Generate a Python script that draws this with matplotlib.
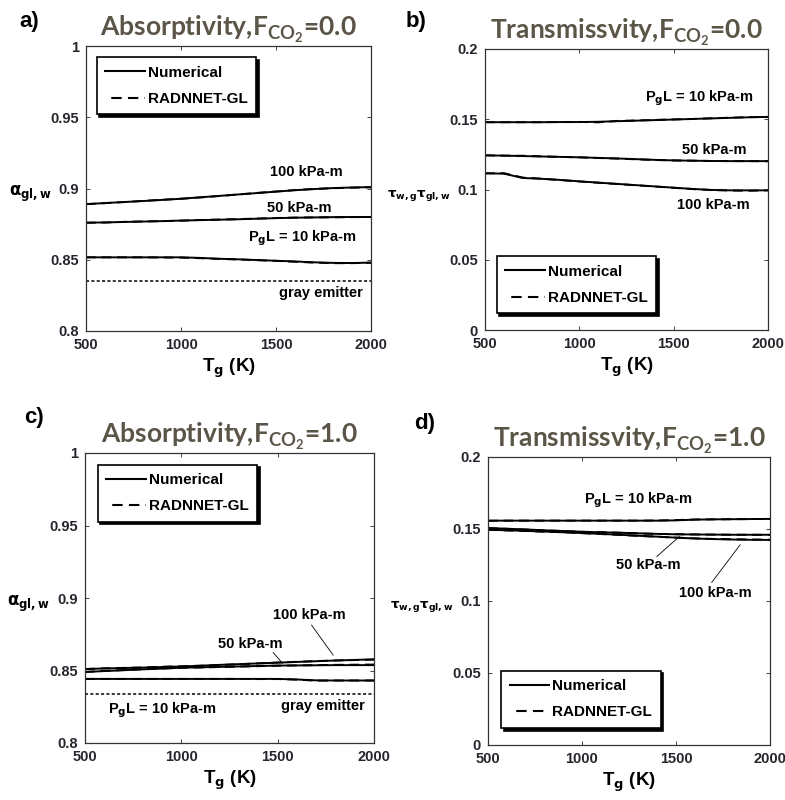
import matplotlib
matplotlib.use("Agg")
import matplotlib.pyplot as plt
import numpy as np

plt.rcParams['font.family'] = ['Liberation Sans', 'DejaVu Sans']
plt.rcParams['font.weight'] = 'bold'
plt.rcParams['mathtext.fontset'] = 'custom'
plt.rcParams['mathtext.rm'] = 'Lato:bold'
plt.rcParams['mathtext.bf'] = 'Lato:bold'
plt.rcParams['mathtext.it'] = 'Lato:bold'

# ---------------- data ----------------
T = [500, 600, 700, 800, 900, 1000, 1100, 1200, 1300, 1400, 1500, 1600, 1700, 1800, 1900, 2000]

# a) absorptivity, F_CO2 = 0.0
a_num_100 = [0.889, 0.8898, 0.8905, 0.8912, 0.892, 0.8928, 0.8938, 0.8948, 0.8958, 0.8968, 0.8978, 0.8988, 0.8996, 0.9003, 0.9007, 0.901]
a_net_100 = [0.889, 0.8897, 0.8905, 0.8913, 0.8921, 0.8928, 0.8937, 0.8947, 0.8958, 0.8969, 0.8979, 0.8989, 0.8997, 0.9002, 0.9006, 0.9008]
a_num_50 = [0.876, 0.8762, 0.8765, 0.8768, 0.8771, 0.8775, 0.8778, 0.8781, 0.8784, 0.8788, 0.8792, 0.8795, 0.8797, 0.8799, 0.88, 0.88]
a_net_50 = [0.876, 0.8761, 0.8766, 0.8769, 0.8771, 0.8774, 0.8779, 0.8782, 0.8785, 0.8789, 0.8793, 0.8796, 0.8797, 0.8798, 0.8799, 0.88]
a_num_10 = [0.8517, 0.8517, 0.8517, 0.8517, 0.8517, 0.8517, 0.8513, 0.8507, 0.8503, 0.8498, 0.8493, 0.8488, 0.8482, 0.8478, 0.8477, 0.848]
a_net_10 = [0.8517, 0.8517, 0.8517, 0.8517, 0.8516, 0.8515, 0.8511, 0.8506, 0.8502, 0.8497, 0.8492, 0.8486, 0.848, 0.8476, 0.8476, 0.8479]
gray_a = 0.835

# b) transmissivity, F_CO2 = 0.0
b_num_10 = [0.1479, 0.1479, 0.1479, 0.1479, 0.148, 0.148, 0.1482, 0.1486, 0.149, 0.1494, 0.1498, 0.1502, 0.1506, 0.151, 0.1514, 0.1517]
b_net_10 = [0.1479, 0.1479, 0.1479, 0.1479, 0.148, 0.1481, 0.1478, 0.1488, 0.1491, 0.1495, 0.1499, 0.1502, 0.1507, 0.1511, 0.1515, 0.1516]
b_num_50 = [0.1243, 0.1241, 0.1238, 0.1235, 0.1232, 0.1229, 0.1225, 0.1221, 0.1216, 0.1211, 0.1207, 0.1205, 0.1203, 0.1202, 0.1202, 0.1202]
b_net_50 = [0.1243, 0.1241, 0.124, 0.1236, 0.1232, 0.1229, 0.1224, 0.122, 0.1215, 0.121, 0.1207, 0.1205, 0.1203, 0.1202, 0.1202, 0.1201]
b_num_100 = [0.1115, 0.1113, 0.1082, 0.1076, 0.1068, 0.1058, 0.1049, 0.104, 0.1031, 0.1022, 0.1013, 0.1004, 0.0997, 0.0994, 0.0994, 0.0994]
b_net_100 = [0.1115, 0.1116, 0.1085, 0.1077, 0.1067, 0.1057, 0.1048, 0.1039, 0.103, 0.1021, 0.1012, 0.1003, 0.0996, 0.0993, 0.0991, 0.0994]

# c) absorptivity, F_CO2 = 1.0
c_num_100 = [0.851, 0.8514, 0.8517, 0.852, 0.8524, 0.8528, 0.8533, 0.8539, 0.8544, 0.8549, 0.8554, 0.8559, 0.8564, 0.8569, 0.8573, 0.8577]
c_net_100 = [0.851, 0.8515, 0.8518, 0.8521, 0.8526, 0.8529, 0.8533, 0.8538, 0.8543, 0.8549, 0.8555, 0.856, 0.8565, 0.8569, 0.8572, 0.8575]
c_num_50 = [0.849, 0.8496, 0.8502, 0.8508, 0.8513, 0.8519, 0.8522, 0.8525, 0.8528, 0.8531, 0.8534, 0.8535, 0.8536, 0.8537, 0.8537, 0.8537]
c_net_50 = [0.849, 0.8497, 0.8503, 0.8509, 0.8514, 0.8519, 0.8521, 0.8524, 0.8527, 0.853, 0.8533, 0.8535, 0.8537, 0.8539, 0.854, 0.8541]
c_num_10 = [0.8442, 0.8442, 0.8442, 0.8442, 0.8442, 0.8442, 0.8442, 0.8442, 0.8442, 0.8442, 0.8442, 0.8438, 0.8432, 0.8431, 0.8431, 0.8431]
c_net_10 = [0.8442, 0.8442, 0.8442, 0.8442, 0.8442, 0.8442, 0.8442, 0.8442, 0.8442, 0.8441, 0.8441, 0.8437, 0.843, 0.8431, 0.8431, 0.8431]
gray_c = 0.834

# d) transmissivity, F_CO2 = 1.0
d_num_10 = [0.1558, 0.1558, 0.1558, 0.1558, 0.1558, 0.1558, 0.1558, 0.1558, 0.1558, 0.1558, 0.156, 0.1565, 0.1567, 0.1568, 0.1569, 0.157]
d_net_10 = [0.1557, 0.1558, 0.1558, 0.1558, 0.1558, 0.1558, 0.1558, 0.1558, 0.1558, 0.1559, 0.1562, 0.1566, 0.1567, 0.1568, 0.1569, 0.157]
d_num_50 = [0.1507, 0.1502, 0.1497, 0.1491, 0.1486, 0.1481, 0.1477, 0.1474, 0.147, 0.1466, 0.1463, 0.1462, 0.1461, 0.146, 0.146, 0.146]
d_net_50 = [0.1505, 0.1501, 0.1496, 0.149, 0.1486, 0.148, 0.1478, 0.1474, 0.1469, 0.1466, 0.1464, 0.1462, 0.1461, 0.146, 0.146, 0.1459]
d_num_100 = [0.1495, 0.1491, 0.1487, 0.1482, 0.1477, 0.1472, 0.1466, 0.146, 0.1453, 0.1447, 0.144, 0.1434, 0.143, 0.1427, 0.1425, 0.1424]
d_net_100 = [0.1495, 0.149, 0.1486, 0.1481, 0.1478, 0.1471, 0.1465, 0.1459, 0.1452, 0.1446, 0.144, 0.1435, 0.1431, 0.1429, 0.1427, 0.1426]

x_ticks = [500, 1000, 1500, 2000]
abs_ticks = [0.8, 0.85, 0.9, 0.95, 1.0]
tr_ticks = [0.0, 0.05, 0.1, 0.15, 0.2]

titles = [r'Absorptivity,F$_{\mathbf{CO}_{\mathbf{2}}}$=0.0',
          r'Transmissvity,F$_{\mathbf{CO}_{\mathbf{2}}}$=0.0',
          r'Absorptivity,F$_{\mathbf{CO}_{\mathbf{2}}}$=1.0',
          r'Transmissvity,F$_{\mathbf{CO}_{\mathbf{2}}}$=1.0']
panel_labels = ['a)', 'b)', 'c)', 'd)']
leg_labels = ['Numerical', 'RADNNET-GL']

# ---------------- figure ----------------
W, H = 785, 800
fig = plt.figure(figsize=(W / 100, H / 100), dpi=100)

def px_axes(l, t, r, b):
    return fig.add_axes([l / W, 1 - b / H, (r - l) / W, (b - t) / H])

axa = px_axes(86, 46, 371, 331)
axb = px_axes(485, 49, 768, 330)
axc = px_axes(85, 453, 374, 743)
axd = px_axes(488, 457, 770, 745)

PG = r'P$_{\mathbf{g}}$L = 10 kPa-m'
YL_A = r'$\mathbf{\alpha}_{\mathbf{gl,w}}$'
YL_T = r'$\mathbf{\tau}_{\mathbf{w,g}}\mathbf{\tau}_{\mathbf{gl,w}}$'
XL = r'T$_{\mathbf{g}}$ (K)'
LBL = 10.5

def style(ax, yticks, ylab, ylab_size, title, plabel, plabel_xy):
    ax.set_xlim(500, 2000)
    ax.set_ylim(yticks[0], yticks[-1])
    ax.set_xticks(x_ticks)
    ax.set_yticks(yticks)
    ax.set_xticklabels([str(v) for v in x_ticks])
    ax.set_yticklabels(['%g' % v for v in yticks])
    ax.tick_params(direction='in', length=3, width=0.7, top=True, right=True,
                   labelsize=10.5, labelcolor='#25252d', color='#444444')
    ax.tick_params(axis='x', pad=5)
    ax.tick_params(axis='y', pad=5)
    for lab in ax.get_xticklabels() + ax.get_yticklabels():
        lab.set_fontweight('bold')
    for s in ax.spines.values():
        s.set_linewidth(0.9)
        s.set_color('#333333')
    ax.set_xlabel(XL, fontsize=13.5, fontweight='bold', labelpad=3,
                  math_fontfamily='dejavusans')
    ax.set_ylabel(ylab, fontsize=ylab_size, rotation=0, math_fontfamily='dejavusans',
                  ha='right', va='center')
    ax.yaxis.set_label_coords(-0.12, 0.48)
    ax.set_title(title, fontsize=19, color='#5b5548', pad=7,
                 fontfamily='Lato', fontweight='bold')
    fig.text(plabel_xy[0] / W, 1 - plabel_xy[1] / H, plabel, fontsize=16,
             fontweight='bold', ha='left', va='center')

def plot_pair(ax, num, net):
    ax.plot(T, num, '-', color='black', lw=1.4)
    ax.plot(T, net, '--', color='black', lw=1.4, dashes=(5, 3))

def add_legend(ax, anchor):
    h1, = ax.plot([], [], '-', color='black', lw=1.5)
    h2, = ax.plot([], [], color='black', lw=1.5, ls=(5, (5, 3)))
    leg = ax.legend([h1, h2], leg_labels, loc='upper left', bbox_to_anchor=anchor,
                    frameon=True, fancybox=False, edgecolor='black',
                    shadow={'color': 'black', 'alpha': 1.0},
                    prop={'weight': 'bold', 'size': 11}, handlelength=2.6,
                    handletextpad=0.2, labelspacing=0.8, borderpad=0.55,
                    borderaxespad=0)
    leg.get_frame().set_linewidth(1.2)

# a
plot_pair(axa, a_num_100, a_net_100)
plot_pair(axa, a_num_50, a_net_50)
plot_pair(axa, a_num_10, a_net_10)
axa.axhline(gray_a, color='black', lw=1.1, ls=(0, (2, 1.5)))
axa.text(1661, 0.9114, '100 kPa-m', fontsize=LBL, fontweight='bold', ha='center', va='center')
axa.text(1621, 0.8863, '50 kPa-m', fontsize=LBL, fontweight='bold', ha='center', va='center')
axa.text(1640, 0.8650, PG, fontsize=LBL, fontweight='bold', ha='center', va='center',
         math_fontfamily='dejavusans')
axa.text(1735, 0.8265, 'gray emitter', fontsize=LBL, fontweight='bold', ha='center', va='center')
add_legend(axa, (0.037, 0.96))
style(axa, abs_ticks, YL_A, 12, titles[0], panel_labels[0], (19, 22))

# b
plot_pair(axb, b_num_10, b_net_10)
plot_pair(axb, b_num_50, b_net_50)
plot_pair(axb, b_num_100, b_net_100)
axb.text(1637, 0.1650, PG, fontsize=LBL, fontweight='bold', ha='center', va='center',
         math_fontfamily='dejavusans')
axb.text(1715, 0.1278, '50 kPa-m', fontsize=LBL, fontweight='bold', ha='center', va='center')
axb.text(1708, 0.0891, '100 kPa-m', fontsize=LBL, fontweight='bold', ha='center', va='center')
add_legend(axb, (0.041, 0.262))
style(axb, tr_ticks, YL_T, 9.5, titles[1], panel_labels[1], (406, 22))

# c
plot_pair(axc, c_num_100, c_net_100)
plot_pair(axc, c_num_50, c_net_50)
plot_pair(axc, c_num_10, c_net_10)
axc.axhline(gray_c, color='black', lw=1.1, ls=(0, (2, 1.5)))
axc.text(1664, 0.8882, '100 kPa-m', fontsize=LBL, fontweight='bold', ha='center', va='center')
axc.plot([1676, 1788], [0.8813, 0.8606], color='black', lw=0.6)
axc.text(1360, 0.8682, '50 kPa-m', fontsize=LBL, fontweight='bold', ha='center', va='center')
axc.plot([1477, 1525], [0.8624, 0.8550], color='black', lw=0.6)
axc.text(903, 0.8225, PG, fontsize=LBL, fontweight='bold', ha='center', va='center',
         math_fontfamily='dejavusans')
axc.text(1734, 0.8253, 'gray emitter', fontsize=LBL, fontweight='bold', ha='center', va='center')
add_legend(axc, (0.044, 0.96))
style(axc, abs_ticks, YL_A, 12, titles[2], panel_labels[2], (24, 418))

# d
plot_pair(axd, d_num_10, d_net_10)
plot_pair(axd, d_num_50, d_net_50)
plot_pair(axd, d_num_100, d_net_100)
axd.text(1300, 0.1700, PG, fontsize=LBL, fontweight='bold', ha='center', va='center',
         math_fontfamily='dejavusans')
axd.text(1354, 0.1247, '50 kPa-m', fontsize=LBL, fontweight='bold', ha='center', va='center')
axd.plot([1398, 1518], [0.1309, 0.1448], color='black', lw=0.6)
axd.text(1708, 0.1059, '100 kPa-m', fontsize=LBL, fontweight='bold', ha='center', va='center')
axd.plot([1690, 1841], [0.1129, 0.1390], color='black', lw=0.6)
add_legend(axd, (0.047, 0.258))
style(axd, tr_ticks, YL_T, 9.5, titles[3], panel_labels[3], (414, 423))

fig.savefig('out.png', dpi=100, facecolor='white')
